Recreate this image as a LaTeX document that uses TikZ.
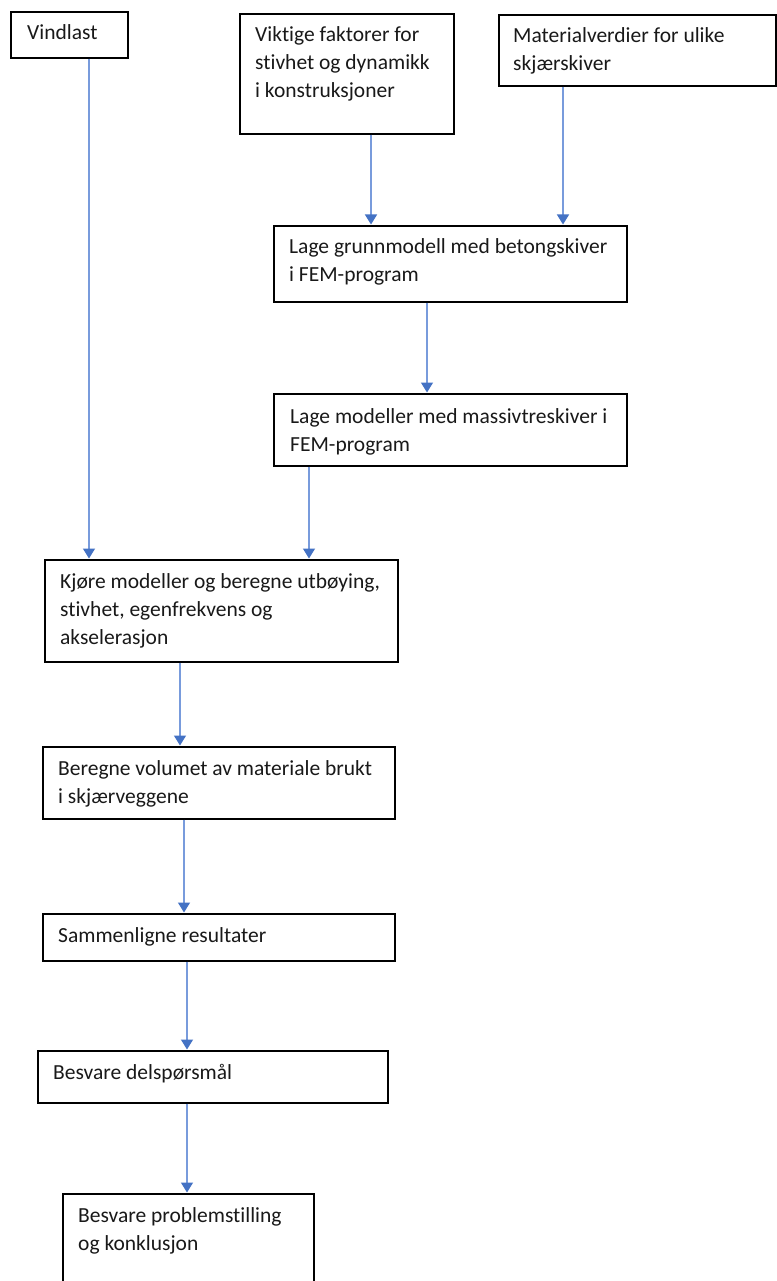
\documentclass[tikz,border=0pt]{standalone}
\usepackage{fontspec}
\setmainfont{Carlito}[Ligatures=NoCommon]
\usetikzlibrary{arrows.meta}
\definecolor{lineblue}{RGB}{120,155,220}
\definecolor{tipblue}{RGB}{68,114,196}
\begin{document}
\begin{tikzpicture}[x=1pt,y=-1pt,
  box/.style={draw=black,line width=1.6pt,rectangle,inner sep=0pt,anchor=north west,fill=none},
  txt/.style={anchor=base west,inner sep=0pt,font=\fontsize{21.5}{28}\selectfont,text=black!90},
  arr/.style={draw=lineblue,line width=1.4pt,-{Triangle[width=12pt,length=10pt,color=tipblue]},shorten >=0.5pt}]
\useasboundingbox[fill=white] (0,0) rectangle (776,1281);
% boxes
\node[box,minimum width=117pt,minimum height=46pt] (vind) at (10,11) {};
\node[box,minimum width=214pt,minimum height=120pt] (vikt) at (239,13) {};
\node[box,minimum width=277pt,minimum height=71pt] (mat) at (498,14) {};
\node[box,minimum width=353pt,minimum height=76pt] (grunn) at (273,225) {};
\node[box,minimum width=353pt,minimum height=72pt] (massiv) at (273,393) {};
\node[box,minimum width=353pt,minimum height=102pt] (kjore) at (44,559) {};
\node[box,minimum width=352pt,minimum height=72pt] (bereg) at (42,746) {};
\node[box,minimum width=352pt,minimum height=47pt] (samm) at (42,913) {};
\node[box,minimum width=350pt,minimum height=52pt] (delsp) at (37,1050) {};
\node[box,minimum width=251pt,minimum height=110pt] (probl) at (62,1193) {};
% texts
\node[txt] (t1) at (27,40) {Vindlast};
\node[txt] (t2a) at (255,42) {Viktige faktorer for};
\node[txt] (t2b) at (255,70) {stivhet og dynamikk};
\node[txt] (t2c) at (255,98) {i konstruksjoner};
\node[txt] (t3a) at (513,43) {Materialverdier for ulike};
\node[txt] (t3b) at (513,71) {skjærskiver};
\node[txt] (t4a) at (289,253) {Lage grunnmodell med betongskiver};
\node[txt] (t4b) at (289,281) {i FEM-program};
\node[txt] (t5a) at (290,423) {Lage modeller med massivtreskiver i};
\node[txt] (t5b) at (290,451) {FEM-program};
\node[txt] (t6a) at (60,588) {Kjøre modeller og beregne utbøying,};
\node[txt] (t6b) at (60,616) {stivhet, egenfrekvens og};
\node[txt] (t6c) at (60,644) {akselerasjon};
\node[txt] (t7a) at (58,775) {Beregne volumet av materiale brukt};
\node[txt] (t7b) at (58,803) {i skjærveggene};
\node[txt] (t8) at (58,942) {Sammenligne resultater};
\node[txt] (t9) at (53,1079) {Besvare delspørsmål};
\node[txt] (t10a) at (78,1222) {Besvare problemstilling};
\node[txt] (t10b) at (78,1250) {og konklusjon};
% arrows
\draw[arr] (vind.south -| 89,0) -- (kjore.north -| 89,0);
\draw[arr] (vikt.south -| 371,0) -- (grunn.north -| 371,0);
\draw[arr] (mat.south -| 563,0) -- (grunn.north -| 563,0);
\draw[arr] (grunn.south -| 427,0) -- (massiv.north -| 427,0);
\draw[arr] (massiv.south -| 309,0) -- (kjore.north -| 309,0);
\draw[arr] (kjore.south -| 180,0) -- (bereg.north -| 180,0);
\draw[arr] (bereg.south -| 184,0) -- (samm.north -| 184,0);
\draw[arr] (samm.south -| 187,0) -- (delsp.north -| 187,0);
\draw[arr] (delsp.south -| 187,0) -- (probl.north -| 187,0);
\end{tikzpicture}
\end{document}
